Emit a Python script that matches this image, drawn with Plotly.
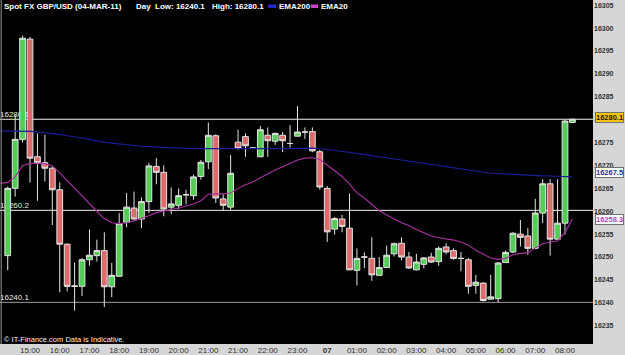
import plotly.graph_objects as go

# ---------------- data ----------------
candle_idx = list(range(77))
opens = [16250.3, 16265.0, 16275.7, 16297.6, 16271.9, 16270.6, 16269.4, 16264.7, 16252.8, 16243.7,
         16243.6, 16249.4, 16250.3, 16251.4, 16243.5, 16245.8, 16257.6, 16260.7, 16258.3, 16262.1,
         16269.8, 16268.5, 16260.9, 16261.3, 16263.6, 16263.4, 16267.6, 16270.8, 16276.5, 16262.7,
         16260.9, 16275.1, 16276.3, 16273.8, 16271.9, 16276.6, 16275.3, 16276.6, 16274.8, 16276.4,
         16277.3, 16277.4, 16273.0, 16265.0, 16256.1, 16258.3, 16256.3, 16247.1, 16250.0, 16249.7,
         16246.0, 16247.7, 16250.7, 16253.0, 16250.0, 16247.2, 16248.4, 16250.0, 16249.0, 16252.2,
         16251.4, 16249.7, 16249.4, 16243.8, 16244.3, 16240.8, 16240.9, 16248.8, 16251.1, 16255.0,
         16254.6, 16251.9, 16259.6, 16266.0, 16253.9, 16257.4, 16279.4]
highs = [16265.4, 16281.0, 16298.4, 16298.1, 16277.0, 16276.7, 16269.8, 16266.3, 16253.0, 16248.8,
         16249.8, 16256.0, 16253.8, 16255.4, 16248.7, 16259.6, 16264.0, 16264.3, 16263.0, 16270.6,
         16271.6, 16270.0, 16265.2, 16265.0, 16264.7, 16268.0, 16271.2, 16279.4, 16276.8, 16263.7,
         16272.3, 16277.8, 16277.0, 16274.0, 16278.6, 16278.3, 16277.2, 16277.3, 16278.8, 16283.0,
         16278.3, 16278.3, 16273.4, 16265.5, 16258.8, 16259.2, 16263.9, 16251.9, 16251.0, 16254.3,
         16250.0, 16252.5, 16253.2, 16254.3, 16251.1, 16250.7, 16250.0, 16250.9, 16252.3, 16253.0,
         16251.9, 16251.1, 16249.8, 16246.1, 16244.5, 16246.1, 16248.9, 16251.4, 16255.4, 16258.1,
         16256.3, 16262.7, 16267.0, 16267.0, 16267.0, 16280.0, 16280.1]
lows = [16247.1, 16263.2, 16275.0, 16266.3, 16262.3, 16266.5, 16257.0, 16242.3, 16242.5, 16238.3,
        16241.5, 16248.1, 16249.0, 16239.1, 16241.2, 16245.7, 16256.5, 16258.1, 16256.3, 16259.6,
        16265.9, 16258.9, 16259.4, 16260.5, 16261.5, 16262.5, 16266.9, 16269.2, 16261.8, 16260.2,
        16260.3, 16273.4, 16271.9, 16273.6, 16271.9, 16271.9, 16274.5, 16272.9, 16273.9, 16276.4,
        16275.8, 16272.9, 16264.7, 16253.3, 16254.9, 16255.4, 16247.1, 16243.8, 16247.6, 16244.8,
        16246.0, 16247.6, 16250.1, 16249.3, 16247.4, 16247.1, 16247.5, 16248.7, 16248.1, 16250.6,
        16249.4, 16246.9, 16242.0, 16242.0, 16240.3, 16240.7, 16240.1, 16248.7, 16250.9, 16252.3,
        16250.5, 16251.7, 16257.4, 16250.3, 16253.8, 16254.9, 16279.3]
closes = [16265.0, 16275.7, 16297.8, 16271.6, 16270.6, 16269.4, 16264.7, 16252.8, 16243.6, 16243.6,
          16249.4, 16250.4, 16251.4, 16243.5, 16246.0, 16257.3, 16260.9, 16258.3, 16262.1, 16269.9,
          16268.5, 16260.5, 16261.6, 16263.4, 16263.6, 16267.5, 16270.7, 16276.6, 16262.9, 16261.3,
          16268.3, 16273.7, 16274.3, 16273.8, 16277.8, 16275.4, 16277.0, 16275.4, 16274.8, 16277.3,
          16277.3, 16273.2, 16265.3, 16255.5, 16258.4, 16256.7, 16247.2, 16249.7, 16250.0, 16246.1,
          16247.7, 16250.4, 16252.9, 16250.0, 16247.6, 16248.9, 16249.8, 16248.9, 16251.9, 16251.1,
          16249.7, 16249.7, 16243.6, 16244.5, 16240.5, 16241.3, 16248.7, 16251.0, 16255.2, 16254.3,
          16251.9, 16259.6, 16266.0, 16253.9, 16257.4, 16279.7, 16280.1]

ema_idx = list(range(-1, 77))
ema200 = [16277.55, 16277.55, 16277.55, 16277.5, 16277.45, 16277.35, 16277.2, 16277.0, 16276.8, 16276.5,
          16276.3, 16276.0, 16275.7, 16275.35, 16275.1, 16274.9, 16274.7, 16274.55, 16274.35, 16274.2,
          16274.1, 16274.0, 16273.95, 16273.85, 16273.8, 16273.75, 16273.7, 16273.7, 16273.65, 16273.6,
          16273.55, 16273.55, 16273.55, 16273.55, 16273.55, 16273.55, 16273.6, 16273.6, 16273.65, 16273.7,
          16273.75, 16273.8, 16273.8, 16273.65, 16273.5, 16273.3, 16273.05, 16272.85, 16272.6, 16272.4,
          16272.1, 16271.85, 16271.6, 16271.4, 16271.2, 16270.95, 16270.7, 16270.5, 16270.25, 16270.0,
          16269.75, 16269.5, 16269.25, 16269.0, 16268.75, 16268.5, 16268.3, 16268.2, 16268.1, 16268.0,
          16267.9, 16267.85, 16267.8, 16267.75, 16267.7, 16267.65, 16267.6, 16267.5]
ema20 = [16266.1, 16266.3, 16267.5, 16270.0, 16270.4, 16270.5, 16270.4, 16269.9, 16268.4, 16266.7,
         16265.0, 16263.2, 16261.6, 16260.0, 16258.4, 16257.5, 16257.3, 16257.5, 16257.9, 16258.4,
         16259.0, 16259.7, 16260.1, 16260.4, 16260.7, 16261.1, 16261.6, 16262.3, 16263.7, 16263.8,
         16263.8, 16264.0, 16265.0, 16265.8, 16266.4, 16267.3, 16268.2, 16269.0, 16269.7, 16270.5,
         16271.2, 16271.6, 16271.7, 16271.3, 16270.1, 16268.8, 16267.6, 16265.9, 16264.0, 16262.9,
         16261.5, 16260.1, 16259.2, 16258.4, 16257.5, 16256.9, 16256.0, 16255.3, 16254.6, 16254.2,
         16254.0, 16253.7, 16253.3, 16252.6, 16251.5, 16250.6, 16249.8, 16249.5, 16249.7, 16250.5,
         16250.8, 16250.9, 16252.0, 16252.9, 16253.3, 16253.5, 16255.4, 16258.3]

time_tick_idx = [3, 7, 11, 15, 19, 23, 27, 31, 35, 39, 43, 47, 51, 55, 59, 63, 67, 71, 75]
time_tick_text = ["15:00", "16:00", "17:00", "18:00", "19:00", "20:00", "21:00", "21:00", "22:00",
                  "23:00", "<b>07</b>", "01:00", "02:00", "03:00", "04:00", "05:00", "06:00",
                  "07:00", "08:00"]
# the 16280 label is hidden behind the last-price tag in the reference
price_ticks = [16235, 16240, 16245, 16250, 16255, 16260, 16265, 16270, 16275, 16285,
               16290, 16295, 16300, 16305]
day_high = 16280.1
day_low = 16240.1
mid_level = 16260.2
last_price = 16280.1

# ---------------- figure ----------------
W, H = 625, 355
ML, MR, MT, MB = 0, 32, 0, 11
PW, PH = W - ML - MR, H - MT - MB


def px(x):
    return x / PW


def py(y):
    return 1 - y / PH


FONT = "Liberation Sans"

fig = go.Figure()

fig.add_trace(go.Scatter(x=ema_idx, y=ema200, mode="lines",
                         line=dict(color="#1a1d94", width=1.2), hoverinfo="skip"))
fig.add_trace(go.Scatter(x=ema_idx, y=ema20, mode="lines",
                         line=dict(color="#a8329f", width=1.1), hoverinfo="skip"))

fig.add_trace(go.Candlestick(
    x=candle_idx, open=opens, high=highs, low=lows, close=closes,
    increasing=dict(fillcolor="#55cc55", line=dict(color="#e4e4e4", width=1)),
    decreasing=dict(fillcolor="#de6c6c", line=dict(color="#e4e4e4", width=1)),
    whiskerwidth=0,
))

shapes = []
for lvl, col in [(day_high, "#f2f2f2"), (mid_level, "#f2f2f2"), (day_low, "#9c9c9c")]:
    shapes.append(dict(
        type="line", xref="paper", x0=0, x1=1, yref="y", y0=lvl, y1=lvl,
        line=dict(color=col, width=1), layer="below",
        label=dict(text=f"{lvl:.1f}", textposition="start", xanchor="left", yanchor="bottom",
                   padding=1, font=dict(family=FONT, size=8, color="#eeeeee")),
    ))
# left border
shapes.append(dict(type="line", xref="paper", yref="paper", x0=0.002, x1=0.002, y0=0, y1=1,
                   line=dict(color="#9a9a9a", width=1)))
# legend swatches in the header
shapes.append(dict(type="rect", xref="paper", yref="paper", x0=px(268), x1=px(276),
                   y0=py(8), y1=py(4.5), fillcolor="#2428c8", line=dict(width=0)))
shapes.append(dict(type="rect", xref="paper", yref="paper", x0=px(311), x1=px(318),
                   y0=py(8), y1=py(4.5), fillcolor="#d040d0", line=dict(width=0)))

ann = []


def header(text, x, y=6.5, size=8, bold=True, color="white"):
    ann.append(dict(text=text, xref="paper", yref="paper", x=px(x), y=py(y),
                    xanchor="left", yanchor="middle", showarrow=False,
                    font=dict(family=FONT, size=size, color=color,
                              weight="bold" if bold else "normal")))


header("Spot FX GBP/USD (04-MAR-11)", 2)
header("Day", 134)
header(f"Low: {day_low:.1f}", 153)
header(f"High: {day_high:.1f}", 210)
header("EMA200", 277)
header("EMA20", 319)
header("© IT-Finance.com Data is Indicative.", 2, y=339.5, size=7.5, bold=False,
       color="#f0f0f0")

# price tags on the right axis
for val, bg, fc, ys in [(last_price, "#ffc20e", "#1a1a1a", 2),
                        (ema200[-1], "#ffffff", "#2a2ab0", 4),
                        (ema20[-1], "#ffffff", "#c040c0", 0)]:
    ann.append(dict(text=f"{val:.1f}", xref="paper", x=1, xshift=2, xanchor="left",
                    yref="y", y=val, yshift=ys, yanchor="middle", showarrow=False,
                    bgcolor=bg, bordercolor="#707070", borderwidth=1, borderpad=0,
                    font=dict(family=FONT, size=7.5, color=fc, weight="bold")))

fig.update_layout(
    width=W, height=H,
    margin=dict(l=ML, r=MR, t=MT, b=MB, pad=0),
    paper_bgcolor="#d6d6d6",
    plot_bgcolor="#000000",
    showlegend=False,
    boxgap=0.12, boxgroupgap=0.12,
    shapes=shapes,
    annotations=ann,
    xaxis=dict(range=[-1.04, 78.77], showgrid=False, zeroline=False, showline=False,
               tickmode="array", tickvals=time_tick_idx, ticktext=time_tick_text,
               ticks="", tickfont=dict(family=FONT, size=8, color="#333333"),
               rangeslider=dict(visible=False), fixedrange=True),
    yaxis=dict(range=[16231.0, 16306.15], side="right", showgrid=False, zeroline=False,
               showline=False, tickmode="array", tickvals=price_ticks, tickformat="d",
               ticks="", tickfont=dict(family=FONT, size=7, color="#333333", weight="bold"),
               fixedrange=True),
)

fig.write_html("out.html")
